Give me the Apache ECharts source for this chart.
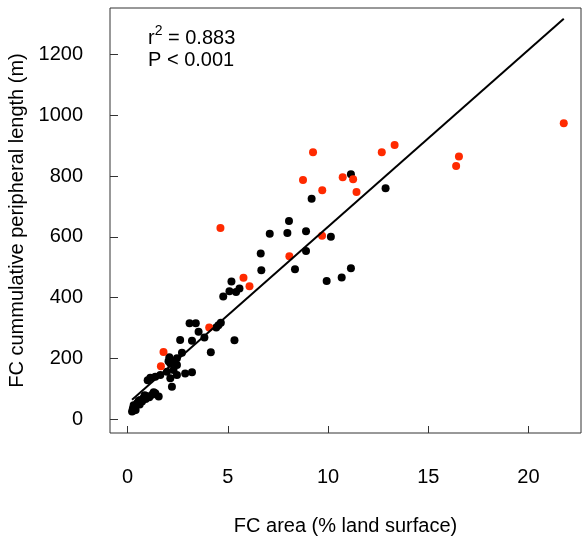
<!DOCTYPE html>
<html>
<head>
<meta charset="utf-8">
<script src="https://cdn.jsdelivr.net/npm/echarts@6/dist/echarts.min.js"></script>
<style>
html, body { margin: 0; padding: 0; background: #fff; }
#chart { width: 582px; height: 538px; }
</style>
</head>
<body>
<div id="chart"></div>
<script>
// FC area (%) vs cumulative peripheral length (m)
var blackPts = [
    [11.14, 806], [9.18, 725], [12.87, 760], [8.05, 652], [7.97, 612], [8.90, 618],
    [10.14, 600], [8.90, 553], [8.35, 493], [9.93, 454], [10.68, 466], [11.14, 496],
    [7.09, 610], [6.64, 545], [6.67, 490], [5.18, 453], [5.08, 421], [5.41, 418],
    [5.58, 430], [4.77, 403], [4.65, 317], [4.42, 301], [4.53, 309], [3.83, 268],
    [3.54, 287], [5.33, 259], [4.15, 220],
    [3.09, 315], [3.40, 315], [2.62, 260], [3.21, 258], [2.08, 203], [2.46, 200],
    [2.71, 218], [2.13, 183], [2.46, 178], [2.29, 161], [1.96, 156], [1.63, 145],
    [2.87, 150], [3.21, 154], [2.46, 145], [1.13, 136], [1.38, 139], [2.13, 134],
    [2.21, 106], [1.00, 128], [2.04, 190], [2.30, 190],
    [0.22, 25], [0.26, 35], [0.30, 45], [0.38, 40], [0.47, 52], [0.55, 60],
    [0.63, 63], [0.72, 58], [0.80, 70], [0.90, 66], [0.97, 75], [1.08, 72],
    [1.22, 80], [1.38, 85], [1.55, 74], [0.40, 30], [0.60, 48], [0.85, 78],
    [1.30, 88], [0.30, 28]
];
var redPts = [
    [9.25, 878], [8.75, 787], [9.71, 753], [10.73, 796], [11.25, 789], [11.42, 747],
    [12.68, 878], [13.32, 902], [16.53, 864], [16.39, 833], [21.76, 974], [9.70, 603],
    [8.07, 536], [4.63, 629], [5.78, 465], [6.08, 437], [4.07, 301], [1.79, 221],
    [1.66, 174]
];
var xTicks = [0, 5, 10, 15, 20];
var yTicks = [0, 200, 400, 600, 800, 1000, 1200];
var fitIntercept = 51;
var fitSlope = 58.2;
var fitRange = [0.22, 21.76];

var fitLine = fitRange.map(function (x) {
    return [x, fitIntercept + fitSlope * x];
});

var font = 'Liberation Sans, Arial, sans-serif';
var chart = echarts.init(document.getElementById('chart'));

chart.setOption({
    animation: false,
    grid: {
        left: 110, right: 1, top: 8, bottom: 105,
        outerBoundsMode: 'none',
        containLabel: false,
        show: true, borderColor: '#333', borderWidth: 1
    },
    xAxis: {
        type: 'value',
        min: -0.88,
        max: 22.62,
        splitLine: { show: false },
        axisLine: { show: false, onZero: false },
        axisTick: { inside: true, length: 7, lineStyle: { color: '#333' }, customValues: xTicks },
        axisLabel: { customValues: xTicks, margin: 34, fontSize: 20, color: '#000', fontFamily: font },
        name: 'FC area (% land surface)',
        nameLocation: 'middle',
        nameGap: 83,
        nameTextStyle: { fontSize: 20, color: '#000', fontFamily: font }
    },
    yAxis: {
        type: 'value',
        min: -46,
        max: 1353,
        splitLine: { show: false },
        axisLine: { show: false, onZero: false },
        axisTick: { inside: true, length: 8, lineStyle: { color: '#333' }, customValues: yTicks },
        axisLabel: {
            customValues: yTicks, margin: 27, fontSize: 20, color: '#000', fontFamily: font,
            formatter: function (v) { return String(v); }
        },
        name: 'FC cummulative peripheral length (m)',
        nameLocation: 'middle',
        nameGap: 64,
        nameTextStyle: { fontSize: 20, color: '#000', fontFamily: font }
    },
    graphic: [{
        type: 'text',
        left: 148, top: 24,
        style: {
            text: '{m|r}{sup|2}{m| = 0.883}',
            fill: '#000',
            rich: {
                m: { fontSize: 20, lineHeight: 28, fontFamily: font, color: '#000' },
                sup: { fontSize: 14, lineHeight: 14, verticalAlign: 'top', fontFamily: font, color: '#000' }
            }
        }
    }, {
        type: 'text',
        left: 148, top: 50,
        style: { text: 'P < 0.001', font: '20px ' + font, fill: '#000' }
    }],
    series: [{
        type: 'scatter',
        data: blackPts,
        symbolSize: 8,
        itemStyle: { color: '#000', opacity: 1 },
        z: 2
    }, {
        type: 'scatter',
        data: redPts,
        symbolSize: 8,
        itemStyle: { color: '#ff2a00', opacity: 1 },
        z: 3
    }, {
        type: 'line',
        data: fitLine,
        showSymbol: false,
        lineStyle: { color: '#000', width: 2 },
        z: 4
    }]
});
window.onresize = chart.resize;
</script>
</body>
</html>
